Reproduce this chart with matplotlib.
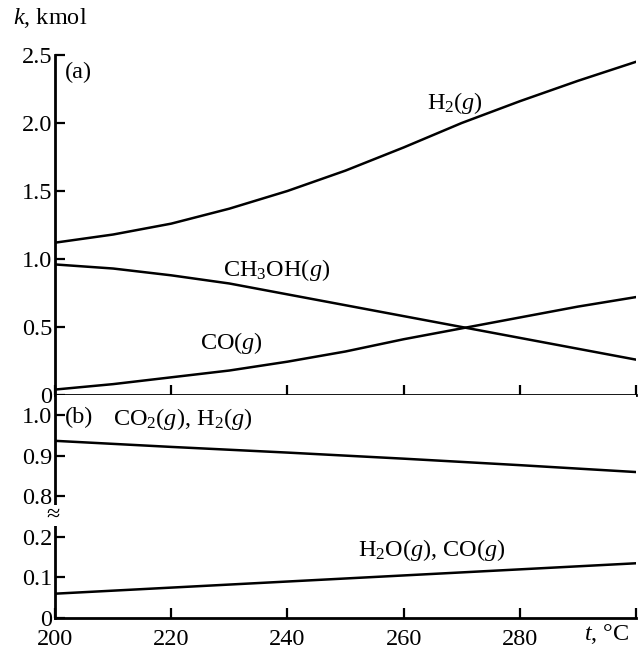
import matplotlib.pyplot as plt

plt.rcParams['font.family'] = ['Liberation Serif', 'DejaVu Serif']
plt.rcParams['mathtext.fontset'] = 'custom'
plt.rcParams['mathtext.rm'] = 'Liberation Serif'
plt.rcParams['mathtext.it'] = 'Liberation Serif:italic'

# temperatures, degC
t_a = [200, 210, 220, 230, 240, 250, 260, 270, 280, 290, 300]
h2 = [1.12, 1.18, 1.26, 1.37, 1.50, 1.65, 1.82, 2.00, 2.16, 2.31, 2.45]
ch3oh = [0.96, 0.93, 0.88, 0.82, 0.74, 0.66, 0.58, 0.50, 0.42, 0.34, 0.26]
co = [0.04, 0.08, 0.13, 0.18, 0.245, 0.32, 0.41, 0.49, 0.57, 0.65, 0.72]

t_b = [200, 220, 240, 260, 280, 300]
co2_h2 = [0.937, 0.922, 0.908, 0.893, 0.877, 0.860]
h2o_co = [0.060, 0.075, 0.090, 0.105, 0.120, 0.135]

b_ticks = [0, 0.1, 0.2, 0.8, 0.9, 1.0]
x_ticks = [200, 220, 240, 260, 280, 300]


def brk(v):
    # broken axis in panel (b): 0.8..1.0 is moved down next to 0..0.2
    return v - 0.5 if v >= 0.5 else v


fs = 17.5
fig = plt.figure(figsize=(6.38, 6.5), dpi=100)
ax1 = fig.add_axes([0.0862, 0.3923, 0.9107, 0.5231])
ax2 = fig.add_axes([0.0862, 0.0492, 0.9107, 0.3431])

for ax in (ax1, ax2):
    ax.spines['top'].set_visible(False)
    ax.spines['right'].set_visible(False)
    for s in ('left', 'bottom'):
        ax.spines[s].set_linewidth(2)
    ax.tick_params(direction='in', length=7, width=1.6, labelsize=fs, pad=2)
    ax.set_xlim(200, 300)
    ax.set_xticks(x_ticks)

# panel (a)
ax1.plot(t_a, h2, color='black', lw=1.8)
ax1.plot(t_a, ch3oh, color='black', lw=1.8)
ax1.plot(t_a, co, color='black', lw=1.8)
ax1.set_ylim(0, 2.5)
ax1.set_yticks([0, 0.5, 1.0, 1.5, 2.0, 2.5])
ax1.set_yticklabels(['0', '0.5', '1.0', '1.5', '2.0', '2.5'])
ax1.tick_params(axis='x', labelbottom=False)
ax1.text(201.7, 2.37, '(a)', fontsize=fs, va='center')
ax1.text(264, 2.15, r'H$_2$($\mathit{g}$)', fontsize=fs, va='center')
ax1.text(229, 0.92, r'CH$_3$OH($\mathit{g}$)', fontsize=fs, va='center')
ax1.text(225, 0.38, r'CO($\mathit{g}$)', fontsize=fs, va='center')

# panel (b)
ax2.plot(t_b, [brk(v) for v in co2_h2], color='black', lw=1.8)
ax2.plot(t_b, [brk(v) for v in h2o_co], color='black', lw=1.8)
ax2.set_ylim(0, 0.55)
ax2.set_yticks([brk(v) for v in b_ticks])
ax2.set_yticklabels(['0', '0.1', '0.2', '0.8', '0.9', '1.0'])
ax2.set_xticklabels(['200', '220', '240', '260', '280', ''])
ax2.tick_params(axis='x', pad=8)
ax2.text(201.7, 0.494, '(b)', fontsize=fs, va='center')
ax2.text(210, 0.49, r'CO$_2$($\mathit{g}$), H$_2$($\mathit{g}$)', fontsize=fs, va='center')
ax2.text(252.2, 0.168, r'H$_2$O($\mathit{g}$), CO($\mathit{g}$)', fontsize=fs, va='center')
ax2.text(199.7, 0.252, '≈', fontsize=fs, ha='center', va='center',
         bbox=dict(facecolor='white', edgecolor='none', pad=0))

fig.text(0.0204, 0.972, r'$\mathit{k}$, kmol', fontsize=fs, va='center')
fig.text(0.915, 0.025, r'$\mathit{t}$, °C', fontsize=fs, va='center')

plt.savefig('out.png', dpi=100)
